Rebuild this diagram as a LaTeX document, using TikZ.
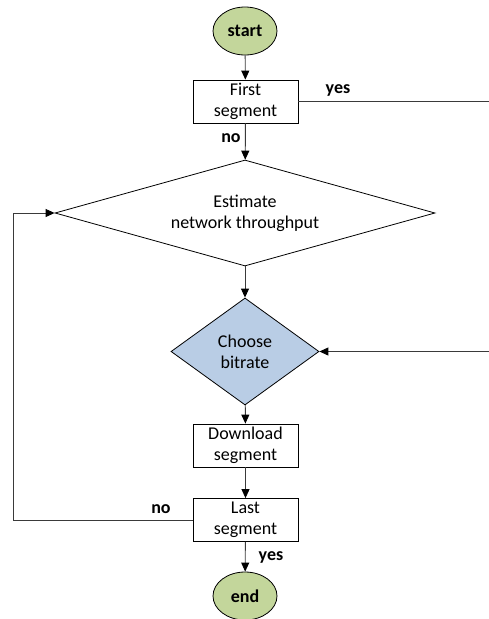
\documentclass[tikz,border=0pt]{standalone}
\usepackage{fontspec}
\setmainfont{Carlito}
\usetikzlibrary{shapes.geometric,arrows.meta}
\definecolor{termfill}{HTML}{C3D69B}
\definecolor{choosefill}{HTML}{B9CDE5}
\definecolor{linegray}{HTML}{3A3A3A}
\begin{document}
\begin{tikzpicture}[x=1pt,y=-1pt,
  base/.style={draw=black,line width=0.8pt,inner sep=0pt,align=center,
    font=\fontsize{18}{21}\selectfont},
  terminal/.style={base,ellipse,fill=termfill,minimum width=64pt,minimum height=48pt,
    font=\fontsize{18}{21}\selectfont\bfseries},
  procbox/.style={base,rectangle,fill=white,minimum width=105pt,minimum height=43pt},
  decision/.style={base,diamond,fill=white},
  flow/.style={draw=linegray,line width=0.9pt,-{Triangle[length=9pt,width=8pt,color=black]}},
  lbl/.style={font=\fontsize{18}{20}\selectfont\bfseries,inner sep=0pt}
]
\useasboundingbox (0,0) rectangle (489,619);

\node[terminal] (start) at (245,31) {start};
\node[procbox] (first) at (245.5,101.5) {First\\segment};
\node[decision,minimum width=380pt,minimum height=106pt,shape aspect=3.6] (est) at (245,213) {Estimate\\network throughput};
\node[decision,fill=choosefill,minimum width=148pt,minimum height=107pt,shape aspect=1.4] (choose) at (245,351.5) {Choose\\bitrate};
\node[procbox] (down) at (245.5,445.5) {Download\\segment};
\node[procbox] (last) at (245.5,520) {Last\\segment};
\node[terminal] (end) at (245,596) {end};

\coordinate (rightrail) at (496,0);
\coordinate (leftrail) at (13,0);

\draw[flow] (start) -- (first);
\draw[flow] (first) -- (est);
\draw[flow] (est) -- (choose);
\draw[flow] (choose) -- (down);
\draw[flow] (down) -- (last);
\draw[flow] (last) -- (end);
\draw[flow] (first.east) -| (rightrail |- choose.east) -- (choose.east);
\draw[flow] (last.west) -| (leftrail |- est.west) -- (est.west);

\node[lbl] at (231,138) {no};
\node[lbl] at (338,90) {yes};
\node[lbl] at (161,509) {no};
\node[lbl] at (271,557) {yes};
\end{tikzpicture}
\end{document}
